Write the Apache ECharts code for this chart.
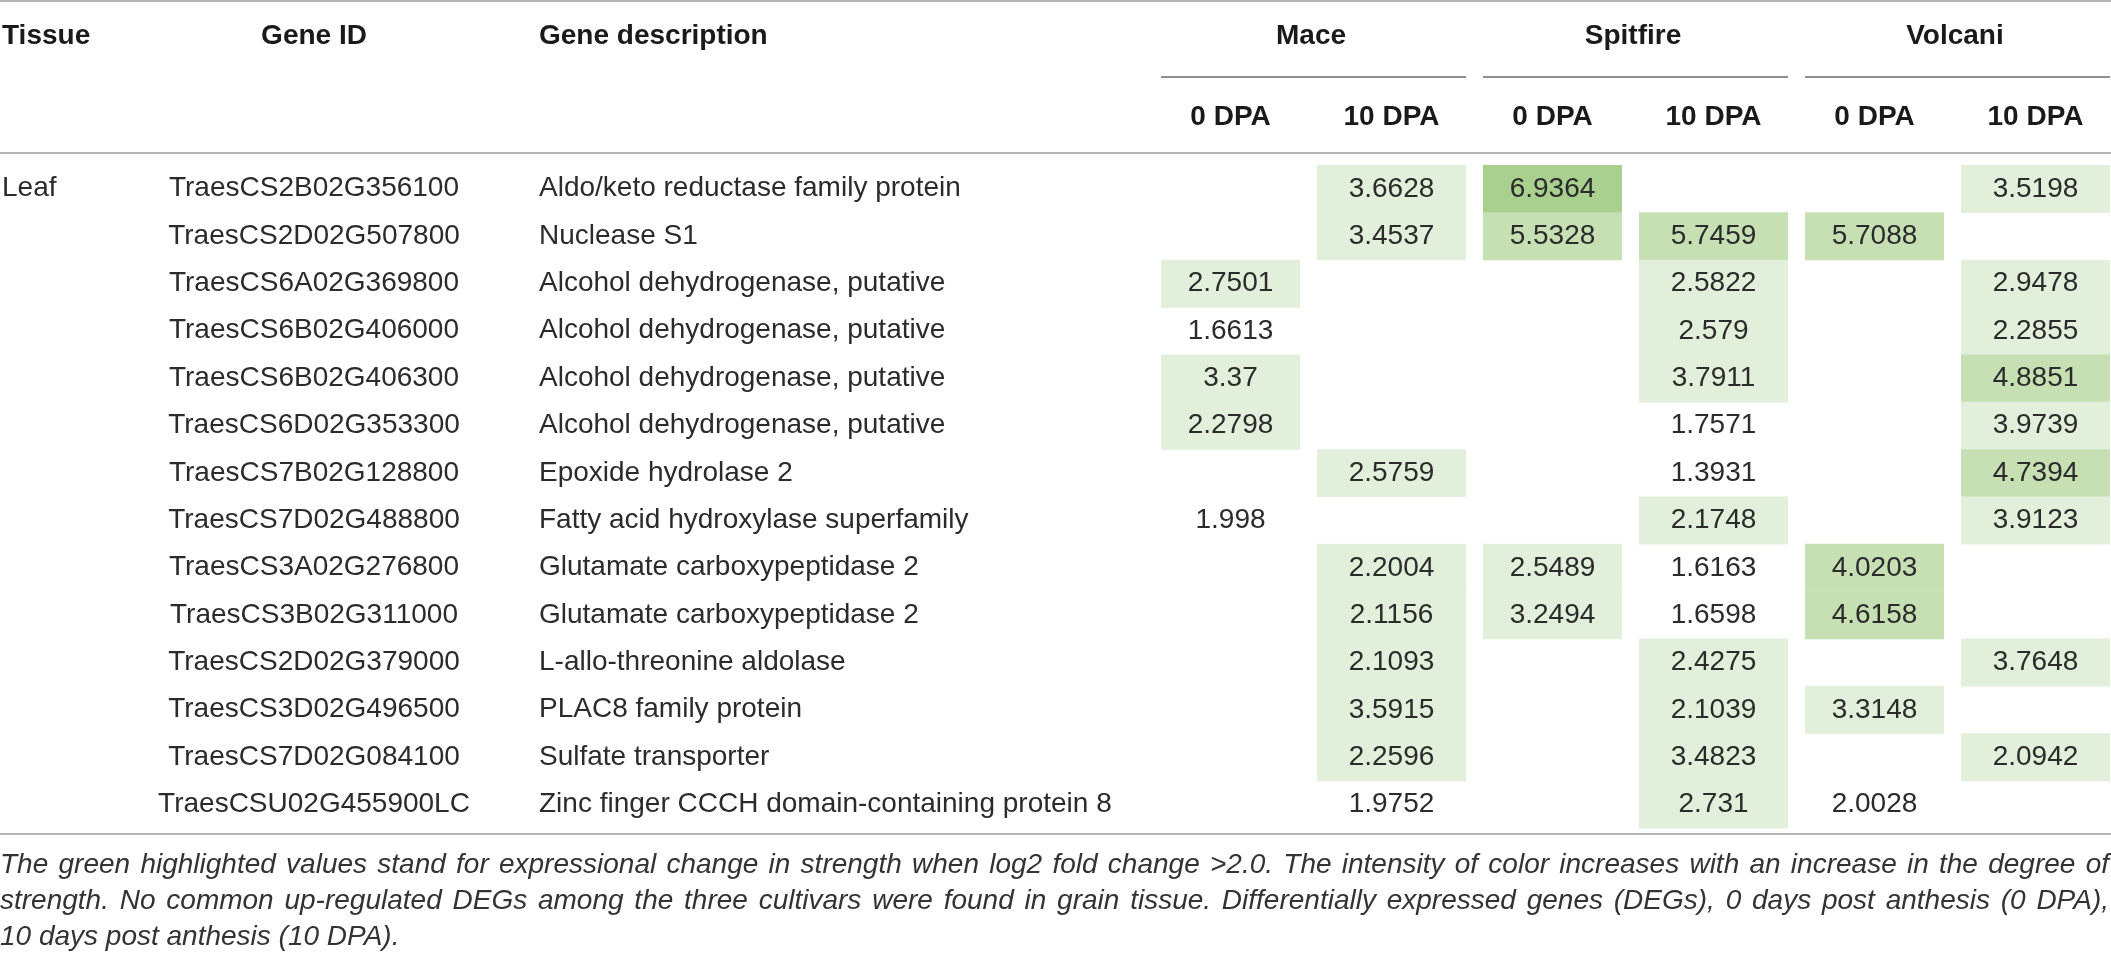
<!DOCTYPE html>
<html>
<head>
<meta charset="utf-8">
<title>Common up-regulated DEGs in leaf</title>
<script src="https://cdn.jsdelivr.net/npm/echarts@6/dist/echarts.min.js"></script>
<style>
html, body { margin: 0; padding: 0; background: #fff; }
#main { width: 2111px; height: 957px; }
</style>
</head>
<body>
<div id="main"></div>
<script>
// 表格数据
var tissue = 'Leaf';
var geneIds = [
    'TraesCS2B02G356100', 'TraesCS2D02G507800', 'TraesCS6A02G369800', 'TraesCS6B02G406000',
    'TraesCS6B02G406300', 'TraesCS6D02G353300', 'TraesCS7B02G128800', 'TraesCS7D02G488800',
    'TraesCS3A02G276800', 'TraesCS3B02G311000', 'TraesCS2D02G379000', 'TraesCS3D02G496500',
    'TraesCS7D02G084100', 'TraesCSU02G455900LC'
];
var descriptions = [
    'Aldo/keto reductase family protein', 'Nuclease S1',
    'Alcohol dehydrogenase, putative', 'Alcohol dehydrogenase, putative',
    'Alcohol dehydrogenase, putative', 'Alcohol dehydrogenase, putative',
    'Epoxide hydrolase 2', 'Fatty acid hydroxylase superfamily',
    'Glutamate carboxypeptidase 2', 'Glutamate carboxypeptidase 2',
    'L-allo-threonine aldolase', 'PLAC8 family protein',
    'Sulfate transporter', 'Zinc finger CCCH domain-containing protein 8'
];
var cultivars = ['Mace', 'Spitfire', 'Volcani'];
var stages = ['0 DPA', '10 DPA', '0 DPA', '10 DPA', '0 DPA', '10 DPA'];

// log2 fold change, one array per column
var mace0   = [null, null, 2.7501, 1.6613, 3.37, 2.2798, null, 1.998, null, null, null, null, null, null];
var mace10  = [3.6628, 3.4537, null, null, null, null, 2.5759, null, 2.2004, 2.1156, 2.1093, 3.5915, 2.2596, 1.9752];
var spit0   = [6.9364, 5.5328, null, null, null, null, null, null, 2.5489, 3.2494, null, null, null, null];
var spit10  = [null, 5.7459, 2.5822, 2.579, 3.7911, 1.7571, 1.3931, 2.1748, 1.6163, 1.6598, 2.4275, 2.1039, 3.4823, 2.731];
var volc0   = [null, 5.7088, null, null, null, null, null, null, 4.0203, 4.6158, null, 3.3148, null, 2.0028];
var volc10  = [3.5198, null, 2.9478, 2.2855, 4.8851, 3.9739, 4.7394, 3.9123, null, null, 3.7648, null, 2.0942, null];

var footnote = [
    'The green highlighted values stand for expressional change in strength when log2 fold change >2.0. The intensity of color increases with an increase in the degree of',
    'strength. No common up-regulated DEGs among the three cultivars were found in grain tissue. Differentially expressed genes (DEGs), 0 days post anthesis (0 DPA),',
    '10 days post anthesis (10 DPA).'
];

var columns = [mace0, mace10, spit0, spit10, volc0, volc10];
var cells = [];
columns.forEach(function (col, c) {
    col.forEach(function (v, r) {
        if (v !== null) cells.push([c, r, v]);
    });
});

var FONT = 'Liberation Sans, Arial, sans-serif';
var TXT = '#2b2b2b';
var W = 2111;
var GRID_LEFT = 1150;
// 0 DPA cells are a bit narrower than 10 DPA cells
var cellFrac = [0.863, 0.925];

var myChart = echarts.init(document.getElementById('main'));

function yLabel(margin, align, fmt) {
    return {
        type: 'category',
        position: 'left',
        offset: 0,
        data: geneIds,
        inverse: true,
        gridIndex: 0,
        axisLine: { show: false },
        axisTick: { show: false },
        splitLine: { show: false },
        axisLabel: {
            interval: 0,
            margin: margin,
            align: align,
            color: TXT,
            fontSize: 28,
            fontFamily: FONT,
            formatter: fmt
        }
    };
}

var option = {
    backgroundColor: '#fff',
    animation: false,
    grid: {
        left: GRID_LEFT,
        top: 165,
        width: 966,
        height: 663,
        outerBoundsMode: 'none'
    },
    xAxis: [
        {
            type: 'category',
            position: 'top',
            data: [0, 1, 2, 3, 4, 5],
            axisLine: { show: false },
            axisTick: { show: false },
            splitLine: { show: false },
            axisLabel: {
                interval: 0,
                margin: 48,
                verticalAlign: 'middle',
                color: '#1a1a1a',
                fontSize: 28,
                fontWeight: 'bold',
                fontFamily: FONT,
                formatter: function (v, i) { return stages[i]; }
            }
        },
        {
            type: 'category',
            position: 'top',
            offset: 0,
            data: cultivars,
            axisLine: { show: false },
            axisTick: { show: false },
            splitLine: { show: false },
            axisLabel: {
                interval: 0,
                margin: 129,
                verticalAlign: 'middle',
                color: '#1a1a1a',
                fontSize: 28,
                fontWeight: 'bold',
                fontFamily: FONT
            }
        }
    ],
    yAxis: [
        yLabel(GRID_LEFT - 314, 'center', function (v) { return v; }),
        yLabel(GRID_LEFT - 539, 'left', function (v, i) { return descriptions[i]; }),
        yLabel(GRID_LEFT - 2, 'left', function (v, i) { return i === 0 ? tissue : ''; })
    ],
    visualMap: {
        type: 'piecewise',
        show: false,
        dimension: 2,
        seriesIndex: 0,
        pieces: [
            { lt: 2.05, color: 'rgba(255,255,255,0)' },
            { gte: 2.05, lt: 4, color: '#e2efda' },
            { gte: 4, lt: 6, color: '#c6e0b4' },
            { gte: 6, color: '#a9d08e' }
        ]
    },
    series: [{
        type: 'custom',
        xAxisIndex: 0,
        yAxisIndex: 0,
        data: cells,
        renderItem: function (params, api) {
            var col = api.value(0);
            var p = api.coord([col, api.value(1)]);
            var band = api.size([1, 1]);
            var w = band[0] * cellFrac[col % 2];
            var h = band[1];
            return {
                type: 'rect',
                shape: { x: p[0] - w / 2, y: p[1] - h / 2, width: w, height: h + 0.6 },
                style: { fill: api.visual('color') },
                textContent: {
                    style: {
                        text: String(api.value(2)),
                        fill: TXT,
                        fontSize: 28,
                        fontFamily: FONT
                    }
                },
                textConfig: { position: 'inside' }
            };
        }
    }],
    graphic: []
};

myChart.setOption(option);

// 横线 + 品种下划线
var graphics = [];
[1, 153, 834].forEach(function (y) {
    graphics.push({
        type: 'line',
        shape: { x1: 0, y1: y, x2: W, y2: y },
        style: { stroke: '#b4b4b4', lineWidth: 2 }
    });
});
for (var g = 0; g < 3; g++) {
    var c0 = myChart.convertToPixel({ xAxisIndex: 0, yAxisIndex: 0 }, [2 * g, 0]);
    var c1 = myChart.convertToPixel({ xAxisIndex: 0, yAxisIndex: 0 }, [2 * g + 1, 0]);
    var band = 966 / 6;
    graphics.push({
        type: 'line',
        shape: {
            x1: c0[0] - band * cellFrac[0] / 2, y1: 77,
            x2: Math.min(W, c1[0] + band * cellFrac[1] / 2), y2: 77
        },
        style: { stroke: '#8f8f8f', lineWidth: 2 }
    });
}
var heads = [
    { text: 'Tissue', x: 2, align: 'left' },
    { text: 'Gene ID', x: 314, align: 'center' },
    { text: 'Gene description', x: 539, align: 'left' }
];
heads.forEach(function (h) {
    graphics.push({
        type: 'text',
        x: h.x, y: 36,
        style: {
            text: h.text, fill: '#1a1a1a', font: 'bold 28px ' + FONT,
            textAlign: h.align, textVerticalAlign: 'middle'
        }
    });
});

// 脚注：前两行两端对齐
var noteFont = 'italic 28px ' + FONT;
var ctx = document.createElement('canvas').getContext('2d');
ctx.font = noteFont;
footnote.forEach(function (line, i) {
    var y = 865 + i * 36;
    var words = line.split(' ');
    var last = i === footnote.length - 1;
    var widths = words.map(function (w) { return ctx.measureText(w).width; });
    var total = widths.reduce(function (a, b) { return a + b; }, 0);
    var gap = last ? ctx.measureText(' ').width : (W - 2 - total) / (words.length - 1);
    var x = 0;
    words.forEach(function (w, k) {
        graphics.push({
            type: 'text',
            x: x, y: y,
            style: {
                text: w, fill: '#333', font: noteFont,
                textAlign: 'left', textVerticalAlign: 'middle'
            }
        });
        x += widths[k] + gap;
    });
});
myChart.setOption({ graphic: graphics });
</script>
</body>
</html>
